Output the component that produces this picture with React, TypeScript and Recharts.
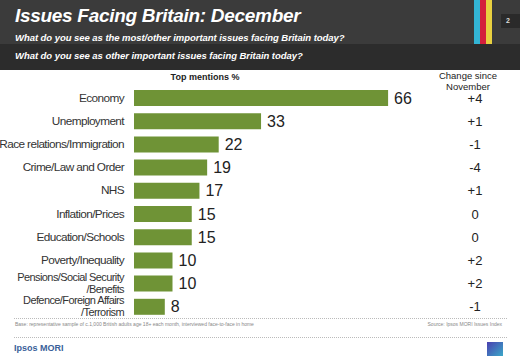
import { BarChart, Bar, XAxis, YAxis, LabelList } from 'recharts';

const issues = [
  'Economy',
  'Unemployment',
  'Race relations/Immigration',
  'Crime/Law and Order',
  'NHS',
  'Inflation/Prices',
  'Education/Schools',
  'Poverty/Inequality',
  'Pensions/Social Security\n/Benefits',
  'Defence/Foreign Affairs\n/Terrorism',
];
const topMentions = [66, 33, 22, 19, 17, 15, 15, 10, 10, 8];
const changeSinceNov = ['+4', '+1', '-1', '-4', '+1', '0', '0', '+2', '+2', '-1'];

const data = issues.map((name, i) => ({ name, value: topMentions[i], change: changeSinceNov[i] }));
const changeByName: Record<string, string> = {};
data.forEach((d) => (changeByName[d.name] = d.change));

const FONT = 'Arial, "Liberation Sans", Helvetica, sans-serif';

function IssueTick({ x, y, payload }: any) {
  const lines = String(payload.value).split('\n');
  const two = lines.length > 1;
  return (
    <text
      x={x}
      y={y}
      textAnchor="end"
      fontFamily={FONT}
      fontSize={two ? 11 : 11.8}
      letterSpacing={-0.6}
      fill="#333"
    >
      {lines.map((l, i) => (
        <tspan key={i} x={x} dy={i === 0 ? (two ? -2 : 4) : 12}>
          {l}
        </tspan>
      ))}
    </text>
  );
}

function ChangeTick({ x, y, payload }: any) {
  return (
    <text x={x + 25} y={y} dy={5} textAnchor="middle" fontFamily={FONT} fontSize={13} fill="#222">
      {changeByName[payload.value]}
    </text>
  );
}

const heading = { position: 'absolute' as const, left: 15, color: '#fff', fontWeight: 700, fontStyle: 'italic' as const, whiteSpace: 'nowrap' as const };

export default function App() {
  return (
    <div style={{ position: 'absolute', left: 0, top: 0, width: 520, height: 356, background: '#fff', fontFamily: FONT, overflow: 'hidden' }}>
      {/* header bands */}
      <div style={{ position: 'absolute', left: 0, top: 0, width: 520, height: 44, background: '#3b3b3b' }} />
      <div style={{ position: 'absolute', left: 0, top: 44, width: 520, height: 26, background: '#2c2c2c' }} />
      <div style={{ position: 'absolute', left: 474, top: 0, width: 6, height: 44, background: '#33b5d5' }} />
      <div style={{ position: 'absolute', left: 480, top: 0, width: 6, height: 44, background: '#d41f3c' }} />
      <div style={{ position: 'absolute', left: 486, top: 0, width: 6, height: 44, background: '#e8d040' }} />
      <div style={{ position: 'absolute', left: 501, top: 14, width: 14, height: 14, background: '#2a2a2a', color: '#ddd', fontSize: 7, fontWeight: 700, lineHeight: '14px', paddingLeft: 5 }}>2</div>
      <div style={{ ...heading, top: 5, fontSize: 19, letterSpacing: -0.3 }}>Issues Facing Britain: December</div>
      <div style={{ ...heading, top: 32, fontSize: 9.5, letterSpacing: -0.05 }}>
        What do you see as the most/other important issues facing Britain today?
      </div>
      <div style={{ ...heading, top: 50, fontSize: 9.5, letterSpacing: -0.05 }}>
        What do you see as other important issues facing Britain today?
      </div>

      {/* column headings */}
      <div style={{ position: 'absolute', left: 150, top: 72, width: 110, textAlign: 'center', color: '#222', fontSize: 9, fontWeight: 700 }}>Top mentions %</div>
      <div style={{ position: 'absolute', left: 423, top: 70, width: 90, textAlign: 'center', color: '#222', fontSize: 9.5, lineHeight: '11px' }}>
        Change since<br />November
      </div>

      <div style={{ position: 'absolute', left: 0, top: 0 }}>
        <BarChart
          width={520}
          height={356}
          data={data}
          layout="vertical"
          margin={{ top: 86, right: 0, bottom: 38, left: 0 }}
          barSize={16}
        >
          <XAxis type="number" domain={[0, 80]} hide />
          <YAxis
            yAxisId="left"
            type="category"
            dataKey="name"
            width={134}
            axisLine={false}
            tickLine={false}
            tickMargin={4}
            tick={<IssueTick />}
            interval={0}
          />
          <YAxis
            yAxisId="right"
            orientation="right"
            type="category"
            dataKey="name"
            width={78}
            axisLine={false}
            tickLine={false}
            tick={<ChangeTick />}
            interval={0}
          />
          <Bar yAxisId="left" dataKey="value" fill="#6f9336" isAnimationActive={false}>
            <LabelList dataKey="value" position="right" offset={6} fill="#222" fontSize={16} fontFamily={FONT} />
          </Bar>
        </BarChart>
      </div>

      {/* footer */}
      <div style={{ position: 'absolute', left: 14, top: 318, width: 493, borderTop: '1px dotted #bbb' }} />
      <div style={{ position: 'absolute', left: 15, top: 321, color: '#888', fontSize: 5, whiteSpace: 'nowrap' }}>
        Base: representative sample of c.1,000 British adults age 18+ each month, interviewed face-to-face in home
      </div>
      <div style={{ position: 'absolute', right: 18, top: 321, color: '#888', fontSize: 5, whiteSpace: 'nowrap' }}>
        Source: Ipsos MORI Issues Index
      </div>
      <div style={{ position: 'absolute', left: 14, top: 337, width: 493, borderTop: '1px dotted #bbb' }} />
      <div style={{ position: 'absolute', left: 14, top: 343, color: '#3a5f9a', fontSize: 9, fontWeight: 700 }}>Ipsos MORI</div>
      <div style={{ position: 'absolute', left: 487, top: 342, width: 16, height: 14, background: 'linear-gradient(135deg, #4a3fb0, #3aa8c8)' }} />
    </div>
  );
}
